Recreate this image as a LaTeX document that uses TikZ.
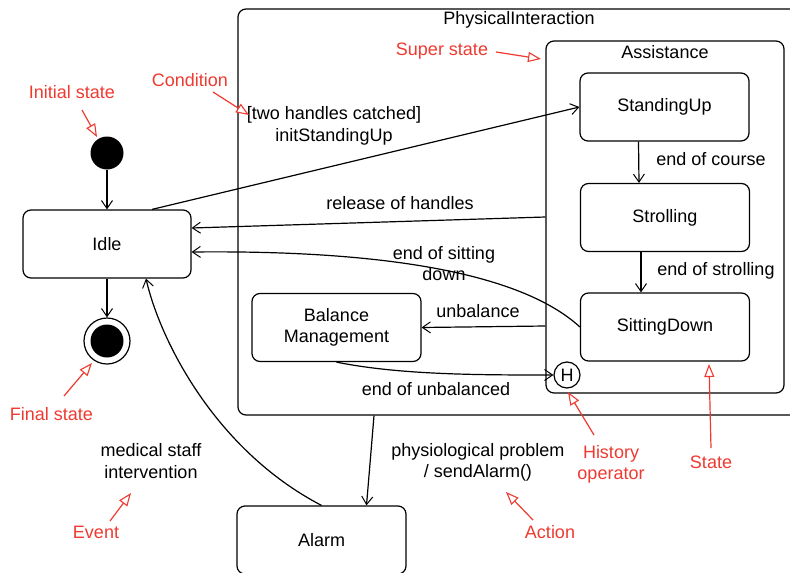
\documentclass[tikz,border=0pt]{standalone}
\usepackage{fontspec}
\setmainfont{Liberation Sans}
\usetikzlibrary{arrows.meta}
\definecolor{anno}{RGB}{238,58,48}
\begin{document}
\begin{tikzpicture}[x=1pt,y=-1pt,
  every node/.style={font=\fontsize{18}{21.5}\selectfont},
  statebox/.style={draw, line width=1.2pt, rounded corners=8pt, inner sep=0pt,
    minimum width=169pt, minimum height=68pt, align=center},
  container/.style={draw, line width=1.2pt, rounded corners=8pt, inner sep=0pt},
  arr/.style={line width=1.2pt, -{Straight Barb[length=8pt,width=11pt,line width=1pt]}},
  anarr/.style={draw=anno, line width=1.2pt, -{Triangle[open,length=13pt,width=10pt,fill=white,line width=1.1pt]}},
  annolabel/.style={text=anno, align=center},
  lbl/.style={align=center}]
\useasboundingbox (0,0) rectangle (790,573);
\clip (0,0) rectangle (790,573);
\fill[white] (0,0) rectangle (790,573);

% containers
\node[container, minimum width=562pt, minimum height=406pt] (pi) at (519,212) {};
\node (pititle) at (519,20) {PhysicalInteraction};
\node[container, minimum width=238pt, minimum height=352pt] (assist) at (665,217) {};
\node (astitle) at (665,52) {Assistance};

% states
\node[statebox] (su) at (664.5,107) {StandingUp};
\node[statebox] (st) at (665,217.5) {Strolling};
\node[statebox] (sd) at (665,327) {SittingDown};
\node[statebox] (bm) at (336.5,327.5) {Balance\\Management};
\node[statebox, minimum width=168pt] (idle) at (107,244) {Idle};
\node[statebox] (alarm) at (321.5,540) {Alarm};

% pseudo states
\node[circle, fill=black, minimum size=33pt, inner sep=0pt] (init) at (107,153) {};
\node[circle, draw, line width=1.2pt, minimum size=46pt, inner sep=0pt] (final) at (107,341) {};
\node[circle, fill=black, minimum size=33pt, inner sep=0pt] (finalin) at (107,341) {};
\node[circle, draw, line width=1.2pt, minimum size=26pt, inner sep=0pt] (hist) at (567,375) {H};

% transitions
\draw[arr] (init) -- (idle.north);
\draw[arr] (idle.south) -- (final);
\draw[arr] ([xshift=-26pt]su.south) -- ([xshift=-26pt]st.north);
\draw[arr] ([xshift=-24pt]st.south) -- ([xshift=-24pt]sd.north);
\draw[arr] ([xshift=45pt]idle.north) -- (su.west);
\draw[arr] (assist.west) -- ([yshift=16pt]idle.east);
\draw[arr] (sd.west) .. controls (520,272) and (380,250) .. ([yshift=-8pt]idle.east);
\draw[arr] ([yshift=-109pt]assist.west) -- (bm.east);
\draw[arr] (bm.south) .. controls (400,375) and (480,375) .. (hist.west);
\draw[arr] ([xshift=-145pt]pi.south) -- ([xshift=45pt]alarm.north);
\draw[arr] (alarm.north) .. controls (215,450) and (160,340) .. ([xshift=39pt]idle.south);

% transition labels
\node[lbl] (lcond) at (334,126) {[two handles catched]\\initStandingUp};
\node[lbl] (lrel) at (400,203) {release of handles};
\node[lbl] (lsit) at (444,263.5) {end of sitting\\down};
\node[lbl] (lunb) at (478,311) {unbalance};
\node[lbl] (leub) at (436,389) {end of unbalanced};
\node[lbl] (lcourse) at (711,159) {end of course};
\node[lbl] (lstroll) at (716,271) {end of strolling};
\node[lbl] (lmed) at (151,461) {medical staff\\intervention};
\node[lbl] (lphys) at (478,462.5) {physiological problem\\/ sendAlarm()};

% annotations
\node[annolabel] (aInit) at (72,92) {Initial state};
\node[annolabel] (aCond) at (190,80) {Condition};
\node[annolabel] (aSuper) at (442,51) {Super state};
\node[annolabel] (aFinal) at (51.5,414) {Final state};
\node[annolabel] (aEvent) at (96,532) {Event};
\node[annolabel] (aAction) at (550,532) {Action};
\node[annolabel] (aHist) at (611,464.5) {History\\operator};
\node[annolabel] (aState) at (711,462) {State};

\coordinate (iA) at (82,110);  \coordinate (iB) at (97,137);
\coordinate (cA) at (213,92);  \coordinate (cB) at (249,115);
\coordinate (sA) at (496,52);  \coordinate (sB) at (541,59);
\coordinate (fA) at (64,396);  \coordinate (fB) at (92,363);
\coordinate (eA) at (110,521); \coordinate (eB) at (131,493);
\coordinate (acA) at (533,520); \coordinate (acB) at (506,492);
\coordinate (hA) at (594,435); \coordinate (hB) at (568,392);
\coordinate (stA) at (711,448); \coordinate (stB) at (709,364);
\draw[anarr] (iA) -- (iB);
\draw[anarr] (cA) -- (cB);
\draw[anarr] (sA) -- (sB);
\draw[anarr] (fA) -- (fB);
\draw[anarr] (eA) -- (eB);
\draw[anarr] (acA) -- (acB);
\draw[anarr] (hA) -- (hB);
\draw[anarr] (stA) -- (stB);
\end{tikzpicture}
\end{document}
